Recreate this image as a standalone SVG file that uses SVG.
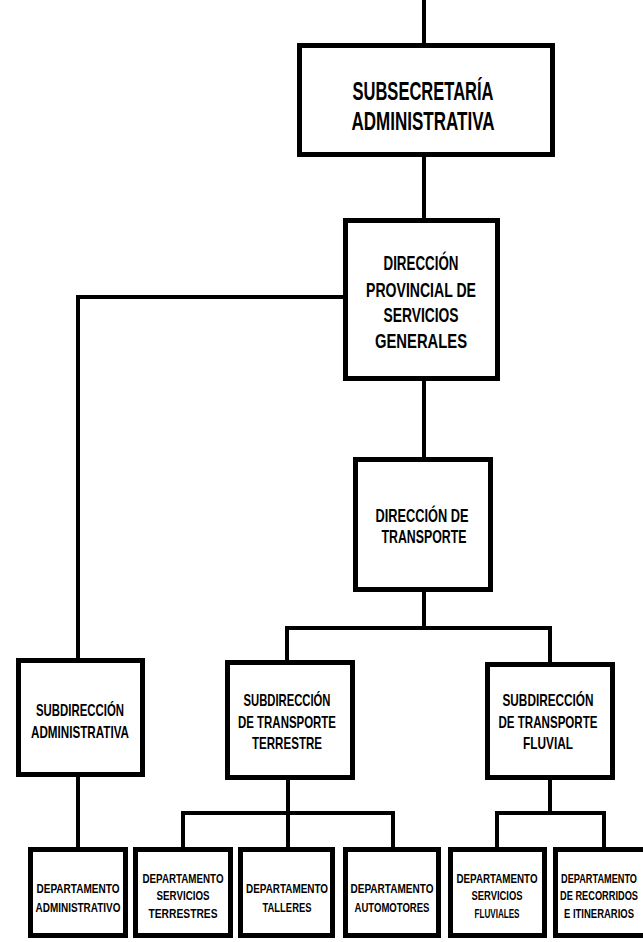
<svg xmlns="http://www.w3.org/2000/svg" width="643" height="942" viewBox="0 0 643 942">
<style>
.box{fill:#fff;stroke:#000;stroke-width:5}
.con{fill:none;stroke:#000;stroke-width:4}
text{font-family:"Liberation Sans",Arial,sans-serif;font-weight:bold;fill:#000;text-anchor:middle}
.t1{font-size:25px}
.t2{font-size:21px}
.t3{font-size:19px}
.t4{font-size:17px}
.t5{font-size:13px}
</style>
<rect width="643" height="942" fill="#fff"/>
<g id="connectors">
<path class="con" d="M424 0 V45"/>
<path class="con" d="M424 155 V220"/>
<path class="con" d="M345 297 H78 V660"/>
<path class="con" d="M424 380 V459"/>
<path class="con" d="M424 590 V628 M287 660 V628 H550 V664"/>
<path class="con" d="M78 775 V849"/>
<path class="con" d="M288 778 V849 M183 849 V813 H393 V849"/>
<path class="con" d="M550 778 V813 M497 849 V813 H604 V849"/>
</g>
<g id="subsecretaria">
<rect class="box" x="299.5" y="45.5" width="253" height="109"/>
<text class="t1" x="423" y="100" textLength="141" lengthAdjust="spacingAndGlyphs">SUBSECRETARÍA</text>
<text class="t1" x="423" y="130" textLength="143" lengthAdjust="spacingAndGlyphs">ADMINISTRATIVA</text>
</g>
<g id="direccion-provincial">
<rect class="box" x="345.5" y="220.5" width="152" height="158"/>
<text class="t2" x="421" y="270" textLength="75" lengthAdjust="spacingAndGlyphs">DIRECCIÓN</text>
<text class="t2" x="421" y="297" textLength="110" lengthAdjust="spacingAndGlyphs">PROVINCIAL DE</text>
<text class="t2" x="421" y="322" textLength="75" lengthAdjust="spacingAndGlyphs">SERVICIOS</text>
<text class="t2" x="421" y="348" textLength="92" lengthAdjust="spacingAndGlyphs">GENERALES</text>
</g>
<g id="direccion-transporte">
<rect class="box" x="355.5" y="459.5" width="135" height="130"/>
<text class="t3" x="422" y="522" textLength="93" lengthAdjust="spacingAndGlyphs">DIRECCIÓN DE</text>
<text class="t3" x="424" y="543" textLength="85" lengthAdjust="spacingAndGlyphs">TRANSPORTE</text>
</g>
<g id="subdireccion-administrativa">
<rect class="box" x="18.5" y="660.5" width="124" height="114"/>
<text class="t4" x="80" y="716" textLength="88" lengthAdjust="spacingAndGlyphs">SUBDIRECCIÓN</text>
<text class="t4" x="80" y="738" textLength="98" lengthAdjust="spacingAndGlyphs">ADMINISTRATIVA</text>
</g>
<g id="subdireccion-terrestre">
<rect class="box" x="227.5" y="662.5" width="125" height="115"/>
<text class="t4" x="287" y="706" textLength="87" lengthAdjust="spacingAndGlyphs">SUBDIRECCIÓN</text>
<text class="t4" x="287" y="728" textLength="98" lengthAdjust="spacingAndGlyphs">DE TRANSPORTE</text>
<text class="t4" x="287" y="749" textLength="70" lengthAdjust="spacingAndGlyphs">TERRESTRE</text>
</g>
<g id="subdireccion-fluvial">
<rect class="box" x="487.5" y="664.5" width="125" height="113"/>
<text class="t4" x="548" y="706" textLength="91" lengthAdjust="spacingAndGlyphs">SUBDIRECCIÓN</text>
<text class="t4" x="548" y="728" textLength="99" lengthAdjust="spacingAndGlyphs">DE TRANSPORTE</text>
<text class="t4" x="548" y="749" textLength="50" lengthAdjust="spacingAndGlyphs">FLUVIAL</text>
</g>
<g id="dep-administrativo">
<rect class="box" x="30.5" y="849.5" width="95" height="86"/>
<text class="t5" x="78" y="893" textLength="83" lengthAdjust="spacingAndGlyphs">DEPARTAMENTO</text>
<text class="t5" x="78" y="912" textLength="85" lengthAdjust="spacingAndGlyphs">ADMINISTRATIVO</text>
</g>
<g id="dep-servicios-terrestres">
<rect class="box" x="135.5" y="849.5" width="95" height="86"/>
<text class="t5" x="183" y="883" textLength="81" lengthAdjust="spacingAndGlyphs">DEPARTAMENTO</text>
<text class="t5" x="183" y="900" textLength="53" lengthAdjust="spacingAndGlyphs">SERVICIOS</text>
<text class="t5" x="183" y="918" textLength="69" lengthAdjust="spacingAndGlyphs">TERRESTRES</text>
</g>
<g id="dep-talleres">
<rect class="box" x="240.5" y="849.5" width="92" height="86"/>
<text class="t5" x="287" y="893" textLength="82" lengthAdjust="spacingAndGlyphs">DEPARTAMENTO</text>
<text class="t5" x="287" y="912" textLength="49" lengthAdjust="spacingAndGlyphs">TALLERES</text>
</g>
<g id="dep-automotores">
<rect class="box" x="345.5" y="849.5" width="93" height="86"/>
<text class="t5" x="392" y="893" textLength="83" lengthAdjust="spacingAndGlyphs">DEPARTAMENTO</text>
<text class="t5" x="392" y="912" textLength="75" lengthAdjust="spacingAndGlyphs">AUTOMOTORES</text>
</g>
<g id="dep-servicios-fluviales">
<rect class="box" x="450.5" y="849.5" width="94" height="86"/>
<text class="t5" x="497" y="883" textLength="81" lengthAdjust="spacingAndGlyphs">DEPARTAMENTO</text>
<text class="t5" x="497" y="900" textLength="51" lengthAdjust="spacingAndGlyphs">SERVICIOS</text>
<text class="t5" x="497" y="918" textLength="45" lengthAdjust="spacingAndGlyphs">FLUVIALES</text>
</g>
<g id="dep-recorridos">
<rect class="box" x="555.5" y="849.5" width="95" height="86"/>
<text class="t5" x="599" y="883" textLength="76" lengthAdjust="spacingAndGlyphs">DEPARTAMENTO</text>
<text class="t5" x="599" y="900" textLength="78" lengthAdjust="spacingAndGlyphs">DE RECORRIDOS</text>
<text class="t5" x="599" y="918" textLength="70" lengthAdjust="spacingAndGlyphs">E ITINERARIOS</text>
</g>
</svg>
